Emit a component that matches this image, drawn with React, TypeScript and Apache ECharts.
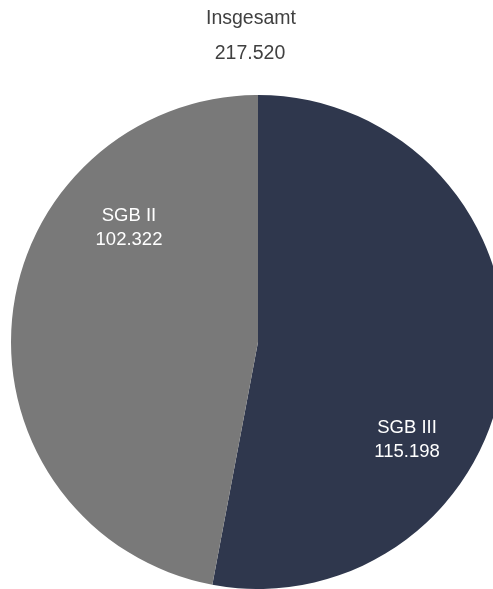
import React, { useEffect, useRef } from "react";
import * as echarts from "echarts";

const categories: string[] = ["SGB III", "SGB II"];
const values: number[] = [115198, 102322];
const sliceColors: string[] = ["#2f374d", "#797979"];
const titleLabel = "Insgesamt";
// label anchor points (page pixels) for each slice
const labelPoints: number[][] = [
  [407, 438],
  [129, 226],
];

function formatDe(n: number): string {
  return String(Math.round(n)).replace(/\B(?=(\d{3})+(?!\d))/g, ".");
}

export default function App() {
  const ref = useRef<HTMLDivElement>(null);
  useEffect(() => {
    if (!ref.current) return;
    const chart = echarts.init(ref.current, undefined, { renderer: "svg" });
    const total = values.reduce((a, b) => a + b, 0);
    const font = "'Liberation Sans', Arial, sans-serif";
    chart.setOption({
      animation: false,
      graphic: [
        {
          type: "text",
          silent: true,
          style: {
            text: titleLabel,
            x: 251,
            y: 17,
            align: "center",
            verticalAlign: "middle",
            fontSize: 19.5,
            fontFamily: font,
            fill: "#404040",
          },
        },
        {
          type: "text",
          silent: true,
          style: {
            text: formatDe(total),
            x: 250,
            y: 52,
            align: "center",
            verticalAlign: "middle",
            fontSize: 19.5,
            fontFamily: font,
            fill: "#404040",
          },
        },
      ],
      series: [
        {
          type: "pie",
          center: [258, 342],
          radius: 247,
          startAngle: 90,
          clockwise: true,
          silent: true,
          emphasis: { disabled: true },
          itemStyle: { borderWidth: 0 },
          label: {
            show: true,
            position: "inside",
            color: "#ffffff",
            fontSize: 18.5,
            lineHeight: 24,
            fontFamily: font,
            formatter: (p: any) => `${p.name}\n${formatDe(p.value)}`,
          },
          labelLine: { show: false },
          labelLayout: (params: any) => ({
            x: labelPoints[params.dataIndex][0],
            y: labelPoints[params.dataIndex][1],
            align: "center",
            verticalAlign: "middle",
          }),
          data: categories.map((c, i) => ({
            name: c,
            value: values[i],
            itemStyle: { color: sliceColors[i] },
          })),
        },
      ],
    });
    return () => chart.dispose();
  }, []);
  return (
    <div
      ref={ref}
      style={{ position: "fixed", left: 0, top: 0, width: 493, height: 589 }}
    />
  );
}
